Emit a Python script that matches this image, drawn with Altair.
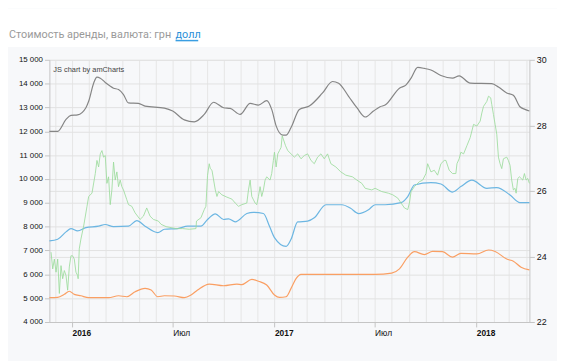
import altair as alt
import pandas as pd

# ---------------- data ----------------
gray_dates = ["2015-11-21", "2015-12-06", "2015-12-21", "2015-12-30", "2016-01-11", "2016-01-26", "2016-01-31",
              "2016-02-09", "2016-02-15", "2016-02-21", "2016-03-01", "2016-03-16", "2016-03-25", "2016-04-03",
              "2016-04-12", "2016-04-30", "2016-05-12", "2016-06-16", "2016-07-01", "2016-07-22", "2016-08-09",
              "2016-08-27", "2016-09-13", "2016-10-01", "2016-10-13", "2016-10-31", "2016-11-18", "2016-12-03",
              "2016-12-18", "2016-12-27", "2017-01-04", "2017-01-16", "2017-01-22", "2017-01-31", "2017-02-15",
              "2017-03-05", "2017-03-29", "2017-04-16", "2017-04-27", "2017-05-15", "2017-05-30", "2017-06-14",
              "2017-06-29", "2017-07-11", "2017-07-20", "2017-08-15", "2017-08-27", "2017-09-05", "2017-09-17",
              "2017-09-29", "2017-10-11", "2017-10-29", "2017-11-19", "2017-12-01", "2017-12-21", "2018-01-29",
              "2018-02-10", "2018-02-25", "2018-03-09", "2018-03-21", "2018-03-30", "2018-04-07"]
gray_vals = [12000, 12000, 12500, 12670, 12690, 12990, 13260,
             14020, 14270, 14230, 14050, 13810, 13750, 13540,
             13190, 13170, 13060, 12975, 12850, 12480, 12400,
             12710, 13220, 12990, 12960, 12710, 13170, 13100,
             13290, 12920, 12230, 11840, 11840, 12160, 12920,
             13060, 13610, 14090, 14020, 13470, 12990, 12600,
             12850, 13030, 13100, 13810, 13950, 14230, 14680,
             14640, 14570, 14340, 14230, 14330, 14020, 14000,
             13860, 13610, 13510, 13030, 12920, 12850]

blue_dates = ["2015-11-21", "2015-12-06", "2015-12-21", "2015-12-30", "2016-01-11", "2016-01-26", "2016-02-18",
              "2016-03-01", "2016-03-16", "2016-04-12", "2016-04-27", "2016-05-12", "2016-06-04", "2016-06-16",
              "2016-07-10", "2016-07-28", "2016-08-21", "2016-09-02", "2016-09-16", "2016-10-01", "2016-10-10",
              "2016-10-22", "2016-11-12", "2016-11-24", "2016-12-12", "2016-12-23", "2017-01-01", "2017-01-22",
              "2017-01-31", "2017-02-12", "2017-03-02", "2017-03-14", "2017-04-04", "2017-05-03", "2017-05-18",
              "2017-06-02", "2017-06-20", "2017-07-02", "2017-07-20", "2017-08-18", "2017-08-30", "2017-09-11",
              "2017-10-11", "2017-10-29", "2017-11-19", "2017-12-04", "2017-12-24", "2018-01-20", "2018-02-07",
              "2018-03-03", "2018-03-21", "2018-04-07"]
blue_vals = [7400, 7470, 7780, 7920, 7820, 7960, 8020,
             8090, 8000, 8020, 8250, 8020, 7750, 7890,
             7920, 8020, 8020, 8300, 8540, 8300, 8330,
             8200, 8550, 8600, 8550, 8020, 7540, 7170,
             7470, 8200, 8230, 8370, 8920, 8920, 8780,
             8550, 8710, 8920, 8920, 9010, 9260, 9750,
             9850, 9790, 9450, 9680, 9950, 9610, 9640,
             9330, 9010, 9010]

orange_dates = ["2015-11-21", "2015-12-06", "2015-12-18", "2015-12-27", "2016-01-05", "2016-01-17", "2016-01-31",
                "2016-03-07", "2016-03-25", "2016-04-09", "2016-04-24", "2016-05-12", "2016-05-23", "2016-06-04",
                "2016-06-16", "2016-07-04", "2016-07-22", "2016-08-03", "2016-08-15", "2016-09-05", "2016-10-01",
                "2016-10-25", "2016-11-03", "2016-11-21", "2016-12-03", "2016-12-18", "2017-01-01", "2017-01-10",
                "2017-01-22", "2017-01-31", "2017-02-09", "2017-02-18", "2017-07-02", "2017-08-01", "2017-08-15",
                "2017-08-30", "2017-09-11", "2017-09-29", "2017-10-14", "2017-11-01", "2017-11-19", "2017-12-04",
                "2018-01-02", "2018-01-23", "2018-02-04", "2018-02-25", "2018-03-09", "2018-03-23", "2018-04-07"]
orange_vals = [5020, 5030, 5160, 5290, 5160, 5100, 5020,
               5020, 5100, 5060, 5270, 5410, 5340, 5060,
               5100, 5090, 5020, 5130, 5340, 5590, 5520,
               5590, 5570, 5790, 5710, 5550, 5130, 5030,
               5060, 5410, 5820, 6000, 6000, 6050, 6230,
               6720, 6950, 6830, 6960, 6950, 6720, 6880,
               6860, 7020, 6960, 6640, 6550, 6300, 6190]

green_dates = ["2015-11-24", "2015-11-27", "2015-11-30", "2015-12-03", "2015-12-06", "2015-12-09", "2015-12-12",
               "2015-12-15", "2015-12-18", "2015-12-21", "2015-12-24", "2015-12-27", "2015-12-30", "2016-01-02",
               "2016-01-05", "2016-01-08", "2016-01-11", "2016-01-12", "2016-01-14", "2016-01-17", "2016-01-22",
               "2016-01-28", "2016-01-31", "2016-02-06", "2016-02-12", "2016-02-15", "2016-02-18", "2016-02-21",
               "2016-02-24", "2016-02-27", "2016-03-01", "2016-03-04", "2016-03-07", "2016-03-10", "2016-03-13",
               "2016-03-16", "2016-03-19", "2016-03-22", "2016-03-25", "2016-03-28", "2016-03-31", "2016-04-03",
               "2016-04-09", "2016-04-12", "2016-04-18", "2016-04-24", "2016-05-03", "2016-05-09", "2016-05-15",
               "2016-05-21", "2016-05-27", "2016-06-05", "2016-06-10", "2016-06-19", "2016-06-28", "2016-07-07",
               "2016-07-19", "2016-07-31", "2016-08-12", "2016-08-13", "2016-08-21", "2016-08-27", "2016-08-30",
               "2016-09-02", "2016-09-05", "2016-09-07", "2016-09-10", "2016-09-16", "2016-09-19", "2016-09-22",
               "2016-09-28", "2016-10-07", "2016-10-16", "2016-10-22", "2016-10-28", "2016-11-03", "2016-11-12",
               "2016-11-15", "2016-11-18", "2016-11-21", "2016-11-24", "2016-11-27", "2016-11-30", "2016-12-03",
               "2016-12-06", "2016-12-09", "2016-12-12", "2016-12-15", "2016-12-18", "2016-12-24", "2016-12-27",
               "2016-12-30", "2017-01-01", "2017-01-04", "2017-01-07", "2017-01-10", "2017-01-13", "2017-01-15",
               "2017-01-17", "2017-01-21", "2017-01-25", "2017-01-31", "2017-02-06", "2017-02-12", "2017-02-18",
               "2017-02-24", "2017-03-02", "2017-03-08", "2017-03-14", "2017-03-20", "2017-03-26", "2017-04-01",
               "2017-04-07", "2017-04-13", "2017-04-22", "2017-05-01", "2017-05-10", "2017-05-22", "2017-05-30",
               "2017-06-08", "2017-06-14", "2017-06-26", "2017-07-02", "2017-07-08", "2017-07-14", "2017-07-26",
               "2017-08-03", "2017-08-12", "2017-08-18", "2017-08-24", "2017-08-30", "2017-09-02", "2017-09-05",
               "2017-09-11", "2017-09-20", "2017-09-26", "2017-10-02", "2017-10-05", "2017-10-11", "2017-10-17",
               "2017-10-23", "2017-10-29", "2017-11-04", "2017-11-07", "2017-11-13", "2017-11-19", "2017-11-25",
               "2017-11-27", "2017-12-01", "2017-12-04", "2017-12-09", "2017-12-15", "2017-12-21", "2017-12-27",
               "2018-01-02", "2018-01-08", "2018-01-11", "2018-01-14", "2018-01-20", "2018-01-23", "2018-01-27",
               "2018-01-29", "2018-02-01", "2018-02-04", "2018-02-07", "2018-02-10", "2018-02-13", "2018-02-16",
               "2018-02-19", "2018-02-25", "2018-02-28", "2018-03-03", "2018-03-06", "2018-03-09", "2018-03-12",
               "2018-03-14", "2018-03-17", "2018-03-20", "2018-03-23", "2018-03-26", "2018-03-29", "2018-04-01",
               "2018-04-04", "2018-04-07"]
green_vals = [24.13, 23.62, 23.92, 23.52, 23.92, 22.87, 23.72,
              23.32, 23.57, 23.42, 22.97, 23.68, 24.02, 24.02,
              23.92, 23.52, 23.42, 23.32, 24.23, 24.53, 24.93,
              25.53, 25.83, 25.93, 26.53, 26.93, 26.73, 27.13,
              27.23, 27.03, 27.08, 26.23, 26.43, 25.58, 26.03,
              26.88, 26.33, 26.58, 26.13, 26.33, 26.13, 26.03,
              25.73, 25.58, 25.53, 25.33, 25.13, 25.23, 25.48,
              25.23, 25.13, 25.08, 24.98, 24.91, 24.88, 24.85,
              24.85, 24.83, 24.85, 25.08, 25.18, 25.43, 25.53,
              26.48, 26.83, 26.68, 26.63, 26.03, 25.83, 25.98,
              25.88, 25.81, 25.75, 25.63, 25.53, 25.58, 25.63,
              26.03, 26.33, 25.83, 25.73, 25.63, 25.58, 25.83,
              26.13, 25.83, 26.03, 26.33, 26.43, 26.33, 26.53,
              26.93, 27.18, 26.73, 27.13, 27.23, 27.33, 27.68,
              27.58, 27.38, 27.23, 27.13, 27.03, 27.13, 26.98,
              27.08, 27.13, 26.93, 26.83, 27.03, 27.13, 26.98,
              27.13, 26.83, 26.73, 26.58, 26.48, 26.43, 26.33,
              26.23, 26.08, 26.03, 26.08, 26.03, 25.98, 25.93,
              25.88, 25.78, 25.63, 25.48, 25.43, 25.63, 25.98,
              26.13, 26.28, 26.33, 26.53, 26.83, 26.58, 26.63,
              26.48, 26.83, 26.93, 26.93, 26.63, 26.53, 26.53,
              26.83, 26.98, 27.18, 27.13, 27.38, 27.63, 28.03,
              27.98, 28.13, 28.38, 28.58, 28.73, 28.89, 28.84,
              28.63, 28.33, 28.03, 27.73, 27.03, 26.83, 26.68,
              26.98, 27.03, 26.93, 26.78, 26.33, 26.03, 26.08,
              25.93, 26.38, 26.43, 26.38, 26.33, 26.53, 26.33,
              26.38, 26.23]

series_names = ["gray", "blue", "orange"]
series_colors = ["#858585", "#6cb6e2", "#fa9f63"]
left_ticks = list(range(4000, 15001, 1000))
right_ticks = [22, 24, 26, 28, 30]
x_start, x_end = "2015-11-21", "2018-04-07"

title_main = "Стоимость аренды, валюта: грн"
title_link = "долл"
watermark = "JS chart by amCharts"

# ---------------- build ----------------
left_df = pd.concat([
    pd.DataFrame({"date": gray_dates, "value": gray_vals, "series": "gray"}),
    pd.DataFrame({"date": blue_dates, "value": blue_vals, "series": "blue"}),
    pd.DataFrame({"date": orange_dates, "value": orange_vals, "series": "orange"}),
])
green_df = pd.DataFrame({"date": green_dates, "rate": green_vals})

to_ms = lambda s: int(pd.Timestamp(s).value // 10**6)
month_ticks = [int(t.value // 10**6) for t in pd.date_range("2015-12-01", "2018-04-01", freq="MS")]

FONT = "Liberation Sans"
x_axis = alt.Axis(
    values=month_ticks,
    labelExpr="utcmonth(datum.value) == 0 ? utcFormat(datum.value, '%Y') : (utcmonth(datum.value) == 6 ? 'Июл' : '')",
    labelAlign="left",
    labelBaseline="top",
    labelPadding=2,
    labelFontSize=8.5,
    labelFont=FONT,
    labelColor="#111",
    labelFontWeight={"condition": {"test": "utcmonth(datum.value) == 0", "value": "bold"}, "value": "normal"},
    tickOpacity={"condition": {"test": "utcmonth(datum.value) % 6 == 0", "value": 1}, "value": 0},
    tickSize=5,
    tickColor="#c4c4c4",
    domainColor="#c4c4c4",
    grid=True,
    gridColor="#e6e6e6",
    labelOverlap=False,
    labelFlush=False,
    title=None,
)
x_enc = alt.X("date:T", scale=alt.Scale(type="utc", domain=[to_ms(x_start), to_ms(x_end)]), axis=x_axis)

left_lines = alt.Chart(left_df).mark_line(interpolate="monotone", strokeWidth=1.2).encode(
    x=x_enc,
    y=alt.Y("value:Q", scale=alt.Scale(domain=[4000, 15000], nice=False),
            axis=alt.Axis(values=left_ticks,
                          labelExpr="replace(format(datum.value, ','), ',', ' ')",
                          labelFontSize=8, labelFont=FONT, labelColor="#111", labelPadding=2,
                          tickSize=5, tickColor="#c4c4c4", domainColor="#c4c4c4",
                          grid=True, gridColor="#e2e2e2", title=None)),
    color=alt.Color("series:N", scale=alt.Scale(domain=series_names, range=series_colors), legend=None),
    detail="series:N",
)

green_line = alt.Chart(green_df).mark_line(strokeWidth=0.9, color="#9cdb9c", opacity=0.95).encode(
    x=x_enc,
    y=alt.Y("rate:Q", scale=alt.Scale(domain=[22, 30], nice=False),
            axis=alt.Axis(orient="right", values=right_ticks, labelFontSize=9, labelFont=FONT,
                          labelColor="#111", labelPadding=2, tickSize=5, tickColor="#c4c4c4",
                          domainColor="#c4c4c4", grid=True, gridColor="#e2e2e2", title=None)),
)

one = alt.Data(values=[{}])
white_top = alt.Chart(one).mark_rect(color="white").encode(
    x=alt.value(-45), x2=alt.value(520), y=alt.value(-52), y2=alt.value(-13))
t_main = alt.Chart(one).mark_text(align="left", baseline="alphabetic", font="Roboto", fontSize=11,
                                  color="#9a9a9a").encode(
    x=alt.value(-41), y=alt.value(-22), text=alt.value(title_main))
t_link = alt.Chart(one).mark_text(align="left", baseline="alphabetic", font="Roboto", fontSize=11,
                                  color="#2b8fd8").encode(
    x=alt.value(128), y=alt.value(-22), text=alt.value(title_link))
underline = alt.Chart(one).mark_rule(color="#3a9ee2", strokeWidth=1.5).encode(
    x=alt.value(128), x2=alt.value(151), y=alt.value(-19.5))
wm = alt.Chart(one).mark_text(align="left", baseline="middle", font=FONT, fontSize=7.5,
                              color="#444").encode(
    x=alt.value(4), y=alt.value(10), text=alt.value(watermark))

chart = alt.layer(
    white_top, t_main, t_link, underline, left_lines, green_line, wm
).resolve_scale(y="independent", color="independent").properties(
    width=487, height=266,
    padding={"left": 42, "top": 50, "right": 28, "bottom": 37},
    autosize=alt.AutoSizeParams(type="none"),
    background="#f7f8fa",
).configure_view(stroke=None)

chart.save("out.html", embed_options={"renderer": "svg", "actions": False})
